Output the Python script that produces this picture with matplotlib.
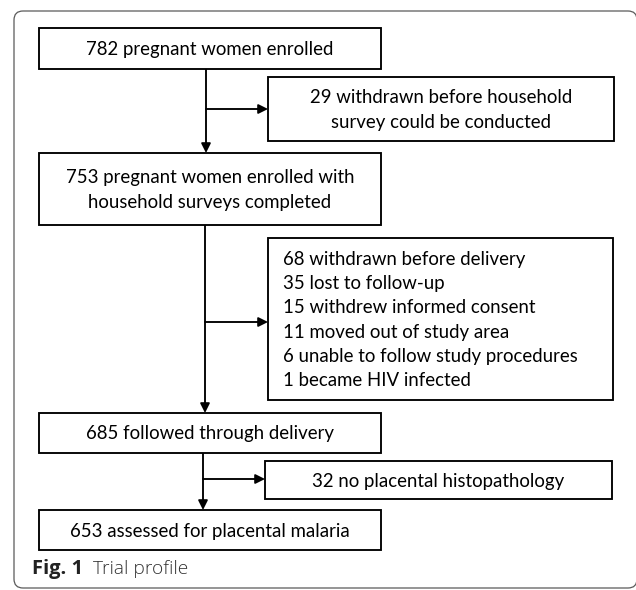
import matplotlib
matplotlib.use("Agg")
import matplotlib.pyplot as plt
from matplotlib.patches import FancyBboxPatch, Rectangle

# ---- content ----
main_labels = [
    "782 pregnant women enrolled",
    "753 pregnant women enrolled with\nhousehold surveys completed",
    "685 followed through delivery",
    "653 assessed for placental malaria",
]
side_labels = [
    "29 withdrawn before household\nsurvey could be conducted",
    "68 withdrawn before delivery\n35 lost to follow-up\n15 withdrew informed consent\n"
    "11 moved out of study area\n6 unable to follow study procedures\n1 became HIV infected",
    "32 no placental histopathology",
]
caption_bold = "Fig. 1"
caption_text = "Trial profile"

# ---- layout (pixels, y downward) ----
main_boxes = [(39, 28, 381, 69), (39, 153, 381, 225), (39, 413, 381, 453), (39, 510, 381, 550)]
side_boxes = [(268, 77, 614, 141), (268, 238, 613, 400), (265, 461, 612, 499)]
side_align = ["center", "left", "center"]
trunk_x = [206, 205, 203]
arrow_y = [109, 322, 479]

W, H = 636, 590
fig = plt.figure(figsize=(W / 100, H / 100), dpi=100)
ax = fig.add_axes([0, 0, 1, 1])
ax.set_xlim(0, W)
ax.set_ylim(H, 0)
ax.axis("off")

FONT = "Lato"
FS = 13.4
LW = 1.35
LS = 1.52

# outer frame
frame = FancyBboxPatch((14, 11), 623, 577, boxstyle="round,pad=0,rounding_size=9",
                       fc="none", ec="#5a5a5a", lw=0.9, clip_on=False)
ax.add_patch(frame)

def box(b, lw=LW):
    x0, y0, x1, y1 = b
    ax.add_patch(Rectangle((x0, y0), x1 - x0, y1 - y0, fc="white", ec="black", lw=lw, zorder=3))

for b, lab in zip(main_boxes, main_labels):
    box(b)
    ax.text((b[0] + b[2]) / 2, (b[1] + b[3]) / 2 + 1, lab, ha="center", va="center",
            fontsize=FS, family=FONT, linespacing=LS, zorder=4)

for b, lab, al in zip(side_boxes, side_labels, side_align):
    box(b)
    if al == "center":
        ax.text((b[0] + b[2]) / 2, (b[1] + b[3]) / 2 + 1, lab, ha="center", va="center",
                fontsize=FS, family=FONT, linespacing=LS, zorder=4)
    else:
        ax.text(b[0] + 15, (b[1] + b[3]) / 2 + 1, lab, ha="left", va="center",
                fontsize=FS, family=FONT, linespacing=LS, zorder=4)

aprops = dict(arrowstyle="-|>", color="black", lw=LW, mutation_scale=14,
              shrinkA=0, shrinkB=0)
for i in range(3):
    x = trunk_x[i]
    top = main_boxes[i][3]
    bot = main_boxes[i + 1][1]
    ax.annotate("", xy=(x, bot), xytext=(x, top), arrowprops=aprops, zorder=2)
    ax.annotate("", xy=(side_boxes[i][0], arrow_y[i]), xytext=(x, arrow_y[i]),
                arrowprops=aprops, zorder=2)

# caption
t = ax.text(32, 569, caption_bold, ha="left", va="center", fontsize=14.5,
            family="Open Sans", fontweight="bold", color="#222222")
fig.canvas.draw()
bb = t.get_window_extent()
x_end = ax.transData.inverted().transform((bb.x1, bb.y0))[0]
ax.text(x_end + 10, 569, caption_text, ha="left", va="center", fontsize=13.8,
        family="Open Sans", fontweight="light", color="#333333")

fig.savefig("out.png", dpi=100)
